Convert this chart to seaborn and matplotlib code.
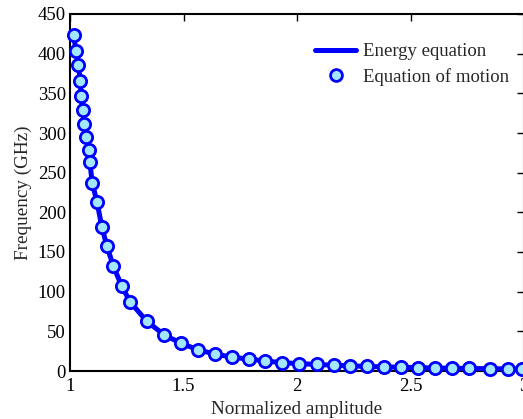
import matplotlib
matplotlib.use("Agg")
import matplotlib.pyplot as plt
import seaborn as sns
import pandas as pd
from matplotlib.lines import Line2D

# Data
amp = [1.018, 1.025, 1.037, 1.045, 1.049, 1.057, 1.062, 1.072, 1.083, 1.087,
       1.098, 1.119, 1.140, 1.162, 1.191, 1.228, 1.265, 1.339, 1.415, 1.489,
       1.566, 1.637, 1.712, 1.787, 1.861, 1.936, 2.011, 2.089, 2.162, 2.232,
       2.308, 2.383, 2.458, 2.533, 2.609, 2.684, 2.757, 2.851, 2.928, 2.990]
freq_motion = [423, 403, 386, 366, 347, 329, 311, 295, 279, 264,
               237, 213, 182, 158, 132, 107, 87, 62.5, 45.5, 35,
               26.5, 21.5, 17.5, 15, 12.5, 10.5, 9.3, 8.2, 7.3, 6.5,
               5.8, 5.2, 4.7, 4.2, 3.8, 3.5, 3.2, 2.9, 2.6, 2.4]
amp_energy = amp
freq_energy = freq_motion

xticks = [1, 1.5, 2, 2.5, 3]
xticklabels = ["1", "1.5", "2", "2.5", "3"]
yticks = [0, 50, 100, 150, 200, 250, 300, 350, 400, 450]

sns.set_style("white")
plt.rcParams["font.family"] = ["Liberation Serif", "DejaVu Serif"]

fig = plt.figure(figsize=(5.23, 4.19), dpi=100)
ax = fig.add_axes([70/523, 48/419, 454/523, 357/419])

df_e = pd.DataFrame({"x": amp_energy, "y": freq_energy})
df_m = pd.DataFrame({"x": amp, "y": freq_motion})

sns.lineplot(data=df_e, x="x", y="y", ax=ax, color="#0000ff", linewidth=3.6,
             sort=False, zorder=3)
sns.scatterplot(data=df_m, x="x", y="y", ax=ax, s=78, color="#a3e7ff",
                edgecolor="#0000ff", linewidth=2.0, zorder=4, clip_on=False)

ax.set_xlim(1, 3)
ax.set_ylim(0, 450)
ax.set_xticks(xticks)
ax.set_xticklabels(xticklabels)
ax.set_yticks(yticks)
ax.tick_params(direction="in", length=5, width=1, top=True, right=True,
               labelsize=13.5, colors="black", pad=3)
ax.tick_params(axis="x", pad=5)
for sp in ax.spines.values():
    sp.set_color("black")
    sp.set_linewidth(1.5)
    sp.set_visible(True)

ax.set_xlabel("Normalized amplitude", fontsize=13.8, labelpad=4)
ax.set_ylabel("Frequency (GHz)", fontsize=13.8, labelpad=4)

handles = [Line2D([0], [0], color="#0000ff", linewidth=3.6),
           Line2D([0], [0], linestyle="none", marker="o", markersize=8.5,
                  markerfacecolor="#a3e7ff", markeredgecolor="#0000ff",
                  markeredgewidth=2.0)]
ax.legend(handles, ["Energy equation", "Equation of motion"], frameon=False,
          fontsize=13.5, loc="upper right", bbox_to_anchor=(1.004, 0.965),
          handlelength=2.2, handletextpad=0.35, labelspacing=0.4)

fig.savefig("out.png", dpi=100)
